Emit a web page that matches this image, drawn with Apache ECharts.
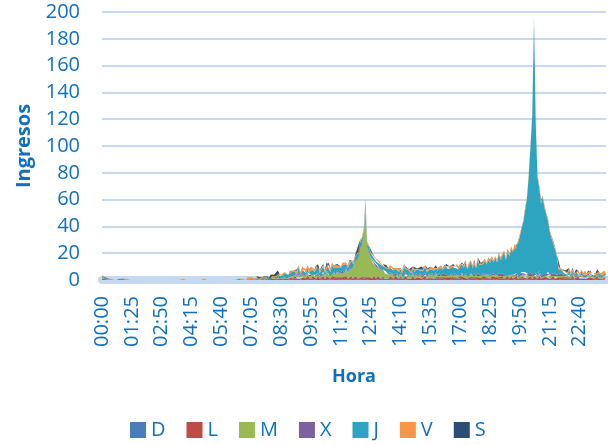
<!DOCTYPE html>
<html>
<head>
<meta charset="utf-8">
<script src="https://cdn.jsdelivr.net/npm/echarts@6/dist/echarts.min.js"></script>
<style>
  html, body { margin: 0; padding: 0; background: #fff; }
  #chart { width: 608px; height: 445px; }
</style>
</head>
<body>
<div id="chart"></div>
<script>
// ingresos cada 5 minutos, una fila por hora (12 valores)
var D = [
  1,0,1,0,0,1,0,0,0,0,0,0, 0,0,0,0,0,0,0,0,0,0,0,0, 0,0,0,0,0,0,0,0,0,0,0,0, 0,0,0,0,0,0,0,0,0,0,0,0,
  0,0,0,0,0,0,0,0,0,0,0,0, 0,0,0,0,0,0,0,0,0,0,0,0, 0,0,0,0,0,0,0,0,0,0,0,0, 0,0,0,0,1,0,0,0,0,1,0,0,
  0,1,0,0,1,0,1,0,0,1,0,1, 1,0,1,0,1,1,0,1,0,1,1,0, 1,1,0,1,0,1,1,0,1,1,0,1, 1,0,1,1,0,1,1,1,0,1,1,0,
  1,1,0,1,1,0,1,1,0,1,0,1, 0,1,1,0,1,0,1,0,1,1,0,1, 1,0,1,0,1,1,0,1,0,1,0,1, 0,1,0,1,1,0,1,0,1,0,1,1,
  1,0,1,1,0,1,0,1,1,0,1,0, 1,1,0,1,0,1,1,0,1,1,0,1, 0,1,1,0,1,0,1,1,0,1,1,0, 1,0,1,1,0,1,0,1,1,0,1,1,
  1,1,0,1,1,0,1,1,0,1,0,1, 0,1,1,0,1,1,0,1,0,1,1,0, 1,0,1,0,1,0,0,1,0,1,0,0, 0,1,0,1,0,0,1,0,1,0,0,1
];
var L = [
  0,1,0,0,1,0,0,0,0,0,0,0, 0,0,0,0,0,0,0,0,0,0,0,0, 0,0,0,0,0,0,0,0,0,0,0,0, 0,0,0,0,0,0,0,0,0,0,0,0,
  0,0,0,0,0,0,0,0,0,0,0,0, 0,0,0,0,0,0,0,0,0,0,0,0, 0,0,0,0,0,0,0,0,0,0,0,1, 0,0,1,0,0,0,1,0,0,0,1,0,
  1,0,1,1,0,1,0,1,1,0,1,1, 1,1,2,1,1,0,2,1,1,2,1,1, 2,1,1,2,1,1,2,1,2,1,1,2, 1,2,1,1,2,1,1,2,1,1,2,1,
  2,1,1,2,1,2,1,1,2,1,1,2, 1,2,1,1,2,1,1,1,2,1,1,2, 1,1,2,1,1,2,1,1,1,2,1,1, 2,1,1,1,2,1,1,2,1,1,2,1,
  1,2,1,1,2,1,2,1,1,2,1,1, 2,1,2,1,1,2,1,2,1,1,2,1, 1,2,1,2,1,1,2,1,2,1,1,2, 2,1,1,2,1,2,1,1,2,1,2,1,
  1,2,1,1,2,1,2,1,1,2,1,2, 2,1,2,1,1,2,1,1,2,1,1,2, 1,2,1,1,2,1,1,2,1,1,1,2, 1,1,2,1,1,1,2,1,1,1,2,1
];
var M = [
  1,0,0,1,0,0,0,0,0,0,0,0, 0,0,0,0,0,0,0,0,0,0,0,0, 0,0,0,0,0,0,0,0,0,0,0,0, 0,0,0,0,0,0,0,0,0,0,0,0,
  0,0,0,0,0,0,0,0,0,0,0,0, 0,0,0,0,0,0,0,0,0,0,0,0, 0,0,0,0,0,0,0,0,0,0,0,0, 0,0,0,1,0,0,0,1,0,0,1,0,
  1,0,1,0,1,1,0,1,1,0,1,1, 1,2,1,1,2,1,2,1,2,2,1,2, 2,1,2,2,1,3,2,2,3,2,2,3, 3,2,4,3,3,4,3,5,4,6,6,8,
  10,13,16,20,24,30,51,22,18,15,12,10, 9,7,6,6,4,4,3,3,2,3,2,2, 2,1,2,1,2,2,1,2,1,2,1,2, 1,2,1,2,1,1,2,1,2,1,2,1,
  2,1,2,1,2,1,1,2,1,2,1,2, 1,2,1,2,1,2,2,1,2,1,2,1, 2,1,1,2,1,2,1,2,1,1,2,1, 1,2,1,1,2,1,2,1,2,1,1,2,
  2,1,2,1,1,2,1,2,1,2,1,1, 1,2,1,2,1,1,2,1,1,2,1,2, 1,1,2,1,1,2,1,1,1,2,1,1, 1,2,1,1,1,1,2,1,1,1,1,1
];
var X = [
  0,0,1,0,0,0,0,0,0,0,0,0, 0,0,0,0,0,0,0,0,0,0,0,0, 0,0,0,0,0,0,0,0,0,0,0,0, 0,0,0,0,0,0,0,0,0,0,0,0,
  0,0,0,0,0,0,0,0,0,0,0,0, 0,0,0,0,0,0,0,0,0,0,0,0, 0,0,0,0,0,0,0,0,0,0,0,0, 0,1,0,0,0,0,0,0,1,0,0,0,
  0,0,1,0,0,1,0,0,1,0,1,0, 1,0,1,0,1,0,1,1,0,1,0,1, 0,1,1,0,1,0,1,0,1,1,0,1, 1,0,1,0,1,1,0,1,0,1,1,0,
  1,1,0,1,0,1,1,0,1,0,1,1, 0,1,0,1,1,0,1,0,1,0,1,0, 1,0,1,0,1,0,1,1,0,1,0,1, 0,1,1,0,1,0,0,1,1,0,1,0,
  1,0,1,1,0,1,0,1,0,1,1,0, 1,1,0,1,0,1,1,0,1,0,1,1, 0,1,1,0,1,1,0,1,1,0,1,1, 1,1,0,1,1,0,1,1,0,1,1,2,
  1,2,1,1,2,1,2,1,1,2,1,1, 1,1,2,1,1,1,2,1,1,1,1,0, 1,0,1,0,1,0,1,0,0,1,0,1, 0,1,0,0,1,0,0,1,0,0,1,0
];
var J = [
  1,1,0,1,0,1,0,0,0,0,1,0, 1,0,0,0,0,0,0,0,0,0,0,0, 0,0,0,0,0,0,0,0,0,0,0,0, 0,0,0,0,0,0,0,0,0,0,0,0,
  0,0,0,0,0,0,0,0,0,0,0,0, 0,0,0,0,0,0,0,0,0,0,0,0, 0,0,0,0,0,0,1,0,0,0,0,0, 0,1,0,0,1,0,1,0,1,1,0,1,
  1,0,1,1,2,1,2,1,2,3,1,2, 2,3,1,2,5,2,3,4,2,3,2,5, 3,2,4,6,2,3,4,2,5,6,3,4, 3,5,2,4,3,4,6,3,4,3,4,3,
  3,4,3,4,5,3,4,3,4,3,4,3, 4,3,4,3,2,4,3,4,3,4,3,4, 3,4,2,3,5,3,4,2,3,3,4,3, 4,2,4,3,5,4,3,4,3,5,3,4,
  4,6,3,5,6,4,5,5,7,4,6,5, 5,7,6,8,6,5,9,6,7,6,10,7, 8,7,10,8,11,9,12,8,13,10,15,11, 13,17,12,16,14,19,17,21,19,25,28,33,
  39,47,57,74,94,119,189,112,74,62,54,57, 50,44,38,32,27,22,18,14,4,2,3,1, 2,1,3,2,2,1,3,2,1,2,2,1, 2,1,2,1,2,1,1,2,1,1,2,1
];
var V = [
  1,0,1,0,1,0,0,1,0,0,0,0, 0,0,1,0,0,0,0,0,0,0,0,0, 0,0,0,0,0,0,0,0,0,0,0,0, 0,0,0,0,0,0,0,0,0,0,1,0,
  0,0,0,0,0,0,0,0,0,0,1,0, 0,0,0,0,0,0,0,0,0,0,0,0, 0,0,0,1,0,0,0,0,1,0,0,1, 1,0,1,0,1,1,0,1,0,1,1,0,
  1,2,0,1,2,1,1,2,1,2,0,2, 2,1,2,3,1,2,2,1,3,2,2,1, 1,2,3,1,2,2,1,3,1,2,3,2, 2,1,2,2,1,2,3,1,2,2,1,2,
  1,2,1,2,1,2,1,2,1,1,2,1, 2,1,2,1,2,1,2,1,2,1,2,1, 1,2,1,2,1,1,2,1,2,1,2,1, 2,1,2,1,1,2,1,2,1,2,1,2,
  1,2,1,2,2,1,2,1,2,1,2,2, 2,1,2,2,1,2,1,2,2,1,2,1, 1,2,2,1,2,1,2,2,1,2,1,2, 2,1,2,1,2,2,1,2,1,2,2,1,
  1,2,1,2,1,2,2,1,2,1,2,1, 2,1,2,1,2,1,2,1,2,2,1,2, 1,2,1,2,1,1,2,1,2,1,1,2, 1,1,2,1,1,2,1,1,1,2,1,1
];
var S = [
  0,0,0,0,0,0,0,0,0,0,0,0, 0,0,0,0,0,0,0,0,0,0,0,0, 0,0,0,0,0,0,0,0,0,0,0,0, 0,0,0,0,0,0,0,0,0,0,0,0,
  0,0,0,0,0,0,0,0,0,0,0,0, 0,0,0,0,0,0,0,0,0,0,0,0, 0,0,0,0,0,0,0,0,0,0,0,0, 0,0,0,0,0,0,0,0,0,0,0,0,
  0,0,0,0,1,0,0,0,0,0,0,0, 0,0,0,1,0,0,0,0,0,0,1,0, 0,0,0,0,0,0,1,0,0,0,0,0, 0,0,1,0,0,0,0,0,0,1,0,0,
  0,0,0,0,0,0,1,0,0,0,0,0, 0,0,0,1,0,0,0,0,0,0,0,0, 0,0,0,0,1,0,0,0,0,0,0,0, 0,0,1,0,0,0,0,0,0,0,1,0,
  0,0,0,0,0,1,0,0,0,0,0,0, 0,0,1,0,0,0,0,0,1,0,0,0, 0,0,0,0,0,1,0,0,0,0,0,0, 0,0,0,1,0,0,0,0,0,0,0,0,
  0,0,0,0,0,0,0,0,0,0,1,0, 0,0,0,0,0,1,0,0,0,0,0,0, 0,0,0,0,1,0,0,0,0,0,0,0, 0,0,0,0,0,0,1,0,0,0,0,0
];

var dias = ['D', 'L', 'M', 'X', 'J', 'V', 'S'];
var colores = ['#4a7ebb', '#be4b48', '#98b954', '#7d60a0', '#2ea5c0', '#f79646', '#2c4d75'];

// etiquetas de hora cada 5 minutos
var horas = [];
for (var i = 0; i < 288; i++) {
  var h = Math.floor(i * 5 / 60), m = (i * 5) % 60;
  horas.push((h < 10 ? '0' : '') + h + ':' + (m < 10 ? '0' : '') + m);
}

var azul = '#1070bf';
var claro = '#c6d9f0';
var fuente = 'Open Sans';

var myChart = echarts.init(document.getElementById('chart'));

var series = [D, L, M, X, J, V, S].map(function (datos, k) {
  return {
    name: dias[k],
    type: 'line',
    stack: 'total',
    showSymbol: false,
    symbol: 'none',
    lineStyle: { width: 0 },
    itemStyle: { color: colores[k] },
    areaStyle: { color: colores[k], opacity: 1 },
    data: datos
  };
});

var option = {
  animation: false,
  grid: { left: 102, right: 2, top: 12, bottom: 165 },
  legend: {
    data: dias,
    left: 130,
    top: 420,
    padding: 0,
    icon: 'rect',
    itemWidth: 16,
    itemHeight: 16,
    itemGap: 21,
    textStyle: { color: azul, fontSize: 20, fontFamily: fuente }
  },
  xAxis: {
    type: 'category',
    data: horas,
    boundaryGap: false,
    offset: 4,
    name: 'Hora',
    nameLocation: 'middle',
    nameGap: 84,
    nameTextStyle: { color: azul, fontSize: 18, fontWeight: 'bold', fontFamily: fuente },
    axisLine: { lineStyle: { color: claro, width: 8 } },
    axisTick: { show: false },
    axisLabel: {
      interval: 16,
      rotate: 90,
      margin: 12,
      color: azul,
      fontSize: 20,
      fontFamily: fuente
    }
  },
  yAxis: {
    type: 'value',
    min: 0,
    max: 200,
    interval: 20,
    name: 'Ingresos',
    nameLocation: 'middle',
    nameGap: 68,
    nameTextStyle: { color: azul, fontSize: 20, fontWeight: 'bold', fontFamily: fuente },
    axisLine: { show: false },
    axisTick: { show: false },
    axisLabel: { margin: 22, color: azul, fontSize: 20, fontFamily: fuente },
    splitLine: { lineStyle: { color: claro, width: 2 } }
  },
  series: series
};
myChart.setOption(option);
</script>
</body>
</html>
